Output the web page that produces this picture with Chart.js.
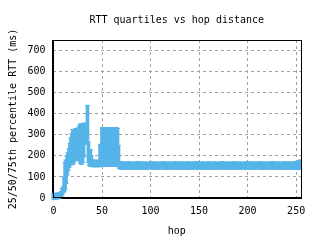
<!DOCTYPE html>
<html>
<head>
<meta charset="utf-8">
<script src="https://cdn.jsdelivr.net/npm/chart.js@4.4.1/dist/chart.umd.min.js"></script>
<style>
	html, body { margin: 0; padding: 0; background: #ffffff; }
	#wrap { width: 320px; height: 240px; }
</style>
</head>
<body>
<div id="wrap"><canvas id="rttChart" width="320" height="240"></canvas></div>
<script>
// hop distance and 25th / 50th / 75th percentile RTT (ms)
var hops = [0,1,2,3,4,5,6,7,8,9,10,11,12,13,14,15,16,17,18,19,
	20,21,22,23,24,25,26,27,28,29,30,31,32,33,34,35,36,37,38,39,
	40,41,42,43,44,45,46,47,48,49,50,51,52,53,54,55,56,57,58,59,
	60,61,62,63,64,65,66,67,68,69,70,
	72,74,76,78,80,82,84,86,88,90,92,94,96,98,100,102,104,106,108,110,
	112,114,116,118,120,122,124,126,128,130,132,134,136,138,140,142,144,146,148,150,
	152,154,156,158,160,162,164,166,168,170,172,174,176,178,180,182,184,186,188,190,
	192,194,196,198,200,202,204,206,208,210,212,214,216,218,220,222,224,226,228,230,
	232,234,236,238,240,242,244,246,248,250,252,254];

var rttP25 = [-5,-3,-8,-2,0,-4,0,2,5,15,25,30,40,70,110,130,145,155,160,165,
	160,170,180,185,180,190,195,175,165,160,170,195,255,280,270,262,170,155,150,150,
	150,148,150,150,148,150,150,148,152,150,155,152,150,154,152,150,153,151,150,152,
	154,150,152,151,150,153,150,148,140,138,137,
	138,137,139,136,138,137,138,136,139,137,138,137,136,138,139,137,138,136,137,138,
	139,137,136,138,137,138,139,137,136,138,137,139,138,136,137,138,137,139,136,138,
	137,138,136,139,137,138,137,136,138,137,139,138,137,136,138,137,139,137,138,136,
	138,137,139,136,138,137,138,136,137,139,138,137,136,138,137,139,138,137,136,138,
	137,138,139,136,138,137,138,136,137,139,135,137];

var rttP50 = [5,8,6,8,10,8,10,12,18,28,38,55,95,130,155,170,185,200,215,230,
	240,250,260,265,262,270,275,268,262,255,268,285,300,312,300,320,205,180,170,165,
	162,160,162,160,160,162,160,160,175,165,245,250,248,252,250,246,250,252,248,250,
	252,248,250,246,250,248,235,200,155,155,155,
	155,154,156,155,155,154,155,156,155,154,155,156,155,155,154,155,156,155,154,155,
	155,156,155,154,155,155,156,155,154,155,155,156,155,154,155,156,155,155,154,155,
	156,155,154,155,155,156,155,154,155,155,156,155,154,155,156,155,155,154,155,156,
	155,154,155,156,155,155,154,155,156,155,154,155,155,156,155,154,155,155,156,155,
	154,155,156,155,155,154,155,156,155,154,157,158];

var rttP75 = [20,22,20,22,24,20,22,24,30,45,55,100,170,180,200,215,235,260,285,305,
	325,310,325,330,320,330,335,345,352,350,350,355,350,355,345,440,265,230,230,200,
	180,178,180,176,178,180,178,176,255,240,332,334,333,334,332,334,333,334,332,333,
	334,332,334,333,334,332,330,250,172,170,170,
	170,171,169,172,170,168,171,170,173,169,170,171,168,170,172,169,171,170,168,171,
	170,172,169,170,171,168,170,173,169,170,171,170,168,172,170,169,171,170,173,169,
	170,171,168,170,172,169,170,171,170,168,171,173,169,170,171,168,170,172,169,170,
	171,170,168,171,173,169,170,171,168,170,172,169,171,170,168,171,170,173,169,170,
	171,168,170,172,169,171,170,168,173,170,176,180];

var xTicks = [0, 50, 100, 150, 200, 250];
var yTicks = [0, 100, 200, 300, 400, 500, 600, 700];

var BLUE = '#56b4e9';
var FONT = {family: '"DejaVu Sans Mono", "Liberation Mono", monospace', size: 10, weight: 'normal'};

function pairs(values) {
	return hops.map(function(h, i) { return {x: h, y: values[i]}; });
}

var quartileBars = hops.map(function(h, i) { return {x: h, y: [rttP25[i], rttP75[i]]}; });

// closes the box on all four sides like gnuplot does
var borderBox = {
	id: 'borderBox',
	afterDatasetsDraw: function(chart) {
		var a = chart.chartArea;
		var ctx = chart.ctx;
		ctx.save();
		ctx.strokeStyle = '#000000';
		ctx.lineWidth = 1;
		ctx.setLineDash([]);
		ctx.strokeRect(Math.round(a.left) + 0.5, Math.round(a.top) + 0.5,
			Math.round(a.right - a.left) - 1, Math.round(a.bottom - a.top) - 1);
		ctx.restore();
	}
};

Chart.defaults.font = FONT;
Chart.defaults.color = '#000000';

new Chart(document.getElementById('rttChart'), {
	type: 'bar',
	data: {
		datasets: [
			{type: 'bar', data: quartileBars, backgroundColor: BLUE, borderWidth: 0, barThickness: 3, clip: false, order: 3},
			{type: 'scatter', data: pairs(rttP25), pointStyle: 'line', pointRadius: 2.5, borderColor: BLUE, borderWidth: 1, clip: false, order: 2},
			{type: 'scatter', data: pairs(rttP75), pointStyle: 'line', pointRadius: 2.5, borderColor: BLUE, borderWidth: 1, clip: false, order: 2},
			{type: 'scatter', data: pairs(rttP50), pointStyle: 'cross', pointRadius: 2, borderColor: BLUE, borderWidth: 1, clip: false, order: 1}
		]
	},
	options: {
		responsive: false,
		animation: false,
		events: [],
		layout: {padding: {left: 0, right: 19, top: 0, bottom: 0}},
		plugins: {
			legend: {display: false},
			tooltip: {enabled: false},
			title: {
				display: true,
				text: 'RTT quartiles vs hop distance',
				font: FONT,
				color: '#000000',
				fullSize: false,
				padding: {top: 14, bottom: 14}
			}
		},
		scales: {
			x: {
				type: 'linear',
				offset: false,
				min: -1,
				max: 255,
				afterBuildTicks: function(scale) {
					scale.ticks = xTicks.map(function(v) { return {value: v}; });
				},
				afterFit: function(scale) { scale.height = 42; },
				grid: {color: '#a0a0a0', drawTicks: false, offset: false},
				border: {display: true, color: '#000000', width: 1, dash: [3, 3]},
				ticks: {padding: 7, maxRotation: 0, autoSkip: false, font: FONT},
				title: {display: true, text: 'hop', font: FONT, padding: {top: 0, bottom: 3}}
			},
			y: {
				type: 'linear',
				min: 0,
				max: 750,
				afterBuildTicks: function(scale) {
					scale.ticks = yTicks.map(function(v) { return {value: v}; });
				},
				afterFit: function(scale) { scale.width = 52.5; },
				grid: {color: '#a0a0a0', drawTicks: false},
				border: {display: true, color: '#000000', width: 1, dash: [3, 3]},
				ticks: {padding: 7, autoSkip: false, font: FONT},
				title: {display: true, text: '25/50/75th percentile RTT (ms)', font: FONT, padding: {top: 7, bottom: 0}}
			}
		}
	},
	plugins: [borderBox]
});
</script>
</body>
</html>
